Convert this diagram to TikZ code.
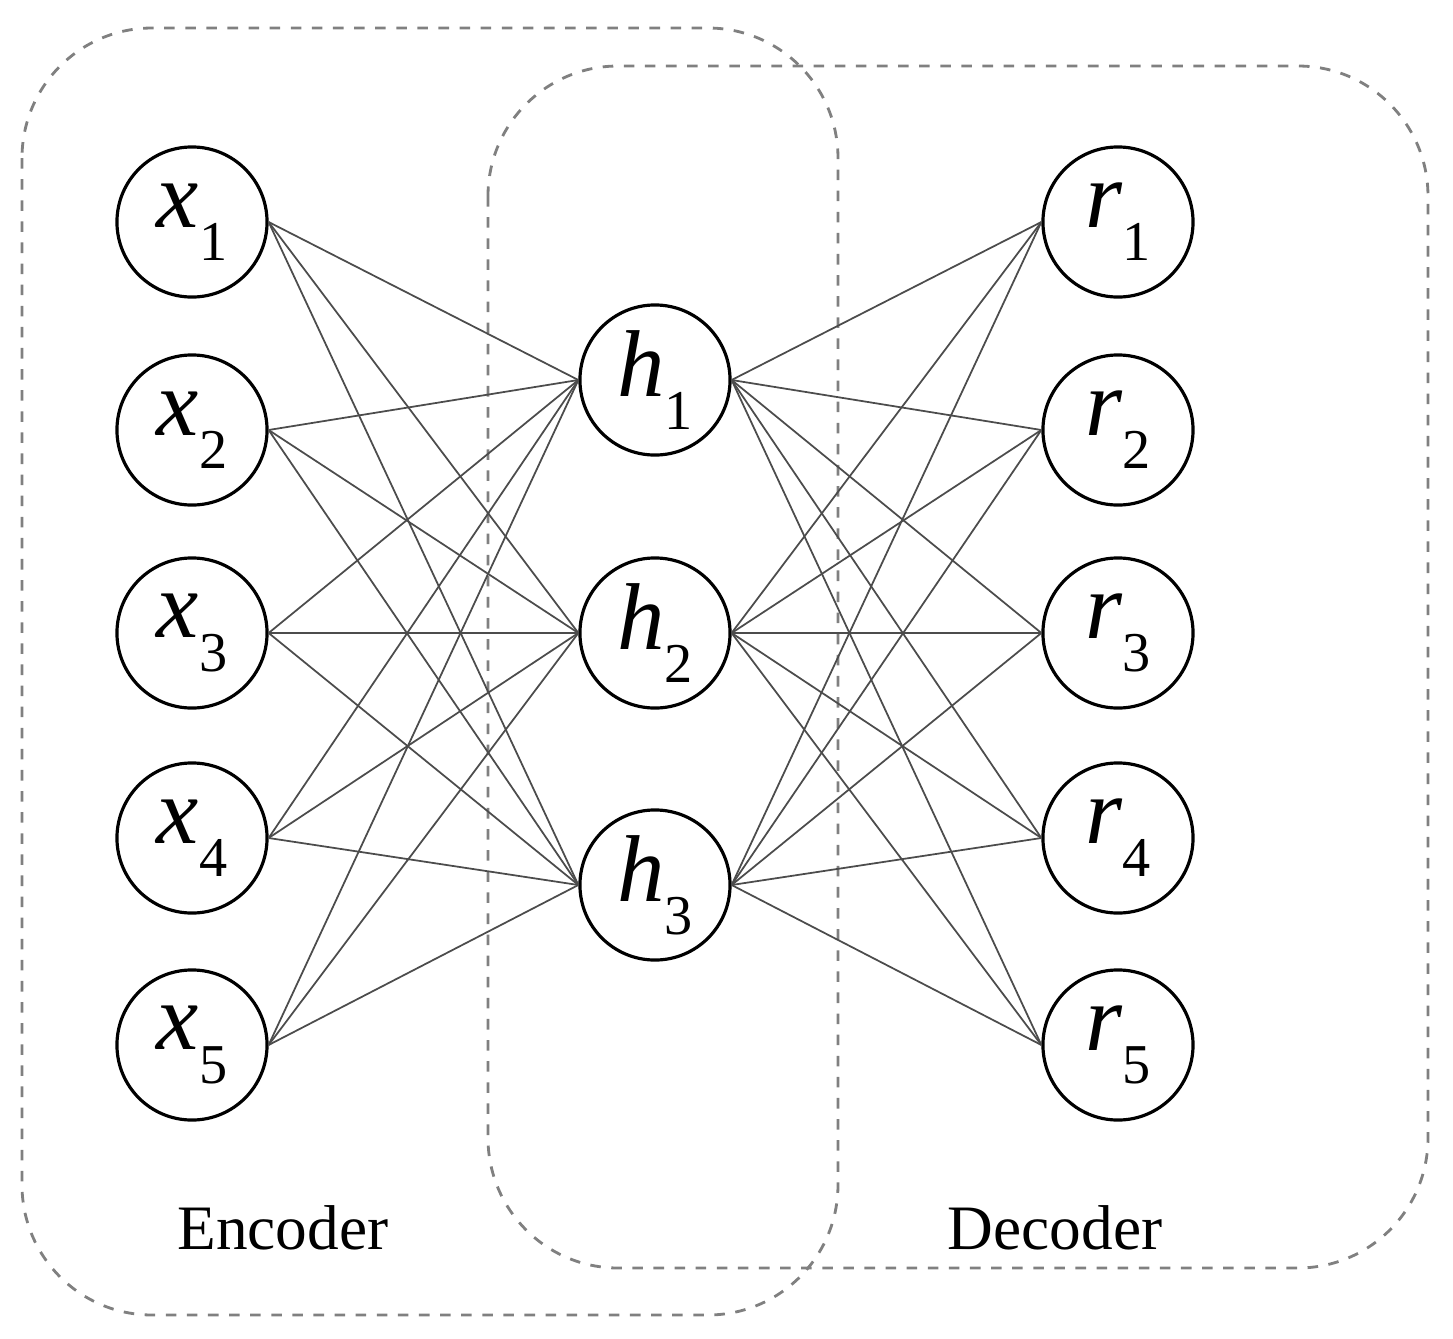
\documentclass[tikz,border=0pt]{standalone}
\usepackage{fontspec}
\setmainfont{Liberation Serif}
\begin{document}
\begin{tikzpicture}[x=0.01cm,y=-0.01cm,
  neuron/.style={circle,draw,line width=0.9pt,minimum size=1.5cm,inner sep=0pt,font=\fontsize{27}{27}\selectfont\itshape},
  box/.style={draw=gray,dashed,line width=0.8pt,rounded corners=1.3cm},
  edge/.style={draw=black!70,line width=0.5pt},
  lab/.style={font=\fontsize{18}{22}\selectfont}]
\useasboundingbox (0,0) rectangle (1453,1339);
\draw[box] (22,28) rectangle (838,1315);
\draw[box] (488,66) rectangle (1428,1268);
\newcommand{\sub}[1]{\raisebox{-0.35em}{\fontsize{16}{16}\selectfont\upshape #1}}
\foreach \i/\y in {1/222,2/430,3/633,4/838,5/1045}{
  \node[neuron] (x\i) at (192,\y) {x\sub{\i}};
  \node[neuron] (r\i) at (1118,\y) {r\sub{\i}};
}
\foreach \j/\y in {1/380,2/633,3/885}{
  \node[neuron] (h\j) at (655,\y) {h\sub{\j}};
}
\foreach \i in {1,...,5}{\foreach \j in {1,2,3}{
  \draw[edge] (x\i.east) -- (h\j.west);
  \draw[edge] (h\j.east) -- (r\i.west);
}}
\node[lab] (enc) at (283,1228) {Encoder};
\node[lab] (dec) at (1055,1228) {Decoder};
\end{tikzpicture}
\end{document}
